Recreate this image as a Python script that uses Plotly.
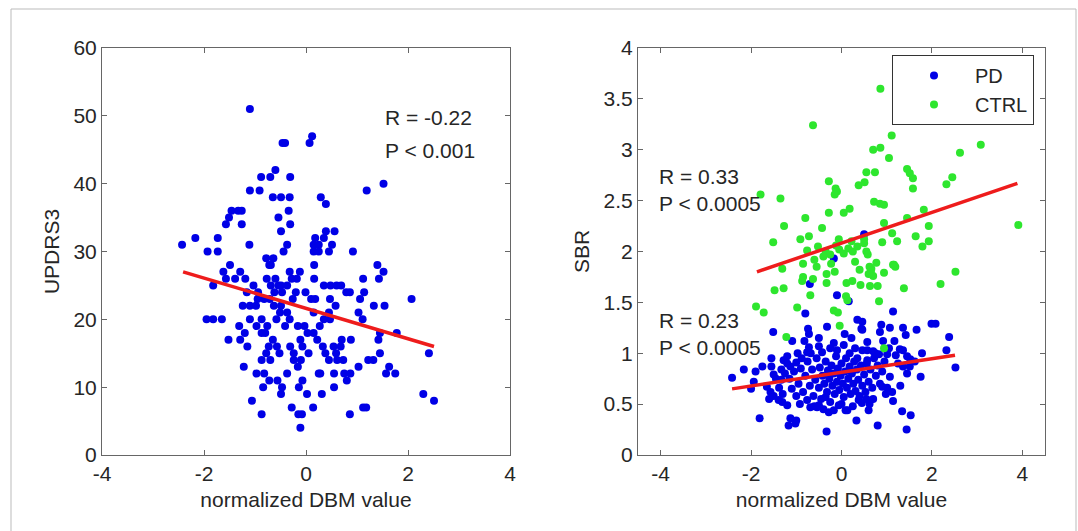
import plotly.graph_objects as go

# ---------------- data ----------------
# Left panel: UPDRS3 vs normalized DBM value (PD subjects)
updrs_points = [
    (-1.10, 51), (0.12, 47), (-0.46, 46), (-0.41, 46), (0.07, 46),
    (-0.60, 42), (-0.88, 41), (-0.70, 41), (-0.31, 41), (1.52, 40),
    (-1.10, 39), (-0.91, 39), (1.19, 39),
    (-0.65, 38), (-0.49, 38), (-0.32, 38), (0.29, 38), (0.39, 37),
    (-1.46, 36), (-1.33, 36), (-1.26, 36), (-0.34, 36),
    (-1.51, 35), (-0.54, 35), (-1.57, 34), (-1.26, 34), (-0.31, 34),
    (-0.49, 33), (0.39, 33), (0.56, 33),
    (-2.17, 32), (-1.73, 32), (0.18, 32), (0.35, 32),
    (-2.43, 31), (-1.11, 31), (-0.37, 31), (0.15, 31), (0.25, 31), (0.51, 31),
    (-1.93, 30), (-1.73, 30), (-0.44, 30), (0.15, 30), (0.25, 30), (0.45, 30), (0.92, 30),
    (-0.78, 29), (-0.64, 29),
    (-1.49, 28), (-0.72, 28), (-0.69, 28), (0.16, 28), (1.40, 28),
    (-1.62, 27), (-1.29, 27), (-0.32, 27), (-0.12, 27), (1.52, 27),
    (-1.57, 26), (-1.39, 26), (-1.19, 26), (-0.77, 26), (-0.60, 26), (-0.28, 26),
    (-0.18, 26), (0.16, 26), (1.12, 26), (1.43, 26),
    (-1.82, 25), (-1.03, 25), (-0.69, 25), (-0.54, 25), (-0.49, 25), (-0.37, 25),
    (0.35, 25), (0.48, 25), (0.60, 25), (0.69, 25),
    (-1.16, 24), (-0.94, 24), (-0.62, 24), (-0.47, 24), (-0.20, 24), (-0.01, 24),
    (0.79, 24), (0.86, 24), (1.14, 24),
    (-0.95, 23), (-0.82, 23), (-0.71, 23), (-0.26, 23), (0.10, 23), (0.18, 23),
    (0.47, 23), (1.06, 23), (2.07, 23),
    (-1.24, 22), (-1.10, 22), (-0.98, 22), (-0.63, 22), (-0.49, 22), (0.58, 22),
    (1.33, 22), (1.54, 22),
    (-0.51, 21), (-0.37, 21), (0.15, 21), (0.45, 21), (1.03, 21),
    (-1.95, 20), (-1.82, 20), (-1.65, 20), (-1.10, 20), (-0.87, 20), (-0.58, 20),
    (-0.32, 20), (0.35, 20), (0.47, 20), (1.11, 20),
    (-1.31, 19), (-0.97, 19), (-0.76, 19), (-0.41, 19), (-0.16, 19), (-0.03, 19), (0.27, 19),
    (-1.20, 18), (-0.87, 18), (-0.80, 18), (0.03, 18), (0.15, 18), (1.45, 18), (1.78, 18),
    (-1.52, 17), (-1.29, 17), (-0.65, 17), (-0.11, 17), (0.22, 17), (0.70, 17),
    (0.88, 17), (1.42, 17),
    (-1.15, 16), (-0.73, 16), (-0.57, 16), (-0.31, 16), (-0.07, 16), (0.33, 16),
    (0.54, 16), (0.68, 16),
    (-0.78, 15), (-0.52, 15), (-0.24, 15), (0.05, 15), (0.38, 15), (0.59, 15),
    (1.45, 15), (2.41, 15),
    (-0.87, 14), (-0.70, 14), (-0.24, 14), (-0.10, 14), (0.45, 14), (0.61, 14),
    (0.73, 14), (1.22, 14), (1.32, 14),
    (-1.22, 13), (-0.16, 13), (1.03, 13), (1.63, 13),
    (-0.97, 12), (-0.82, 12), (-0.37, 12), (0.25, 12), (0.28, 12), (0.55, 12),
    (0.75, 12), (0.87, 12), (1.57, 12), (1.75, 12),
    (-0.72, 11), (-0.56, 11), (-0.07, 11), (0.80, 11),
    (-0.84, 10), (-0.47, 10), (-0.14, 10), (0.55, 10),
    (-0.49, 9), (0.02, 9), (0.31, 9), (2.30, 9),
    (-1.06, 8), (2.51, 8),
    (-0.28, 7), (0.14, 7), (1.12, 7), (1.18, 7),
    (-0.87, 6), (-0.15, 6), (-0.08, 6), (0.86, 6),
    (-0.11, 4),
]
updrs_fit_x = [-2.41, 2.51]
updrs_fit_y = [27.0, 16.0]

# Right panel: SBR vs normalized DBM value, PD group
pd_points = [
    (-2.42, 0.76), (-2.16, 0.84), (-1.90, 0.82), (-1.94, 0.72), (-1.75, 0.87),
    (-1.55, 0.87), (-1.81, 0.36), (-1.51, 1.21), (-1.50, 0.79), (-1.09, 1.12),
    (-0.74, 1.24), (-0.72, 1.19), (-0.80, 1.39), (-0.70, 1.68), (-0.10, 1.57),
    (0.16, 1.51), (-0.32, 1.26), (0.07, 1.19), (0.44, 1.24), (0.35, 1.33),
    (0.46, 1.31), (1.14, 1.41), (2.08, 1.29), (2.38, 1.16), (2.32, 1.03),
    (1.78, 1.00), (2.52, 0.86), (1.75, 0.77), (1.07, 0.77), (1.14, 0.53),
    (1.34, 0.43), (1.53, 0.39), (1.44, 0.25), (0.80, 0.29), (0.33, 0.34),
    (-0.33, 0.23), (-1.17, 0.29), (-1.02, 0.31), (-1.13, 0.36), (-1.00, 0.34),
    (0.60, 0.44), (0.09, 0.44), (0.13, 0.44), (-0.54, 0.47), (0.70, 0.55),
    (-0.17, 1.93), (0.50, 2.17),
    (0.46, 1.23), (0.88, 1.28), (0.85, 1.21), (1.07, 1.25), (1.36, 1.25),
    (1.42, 1.18), (1.66, 1.23), (1.99, 1.29),
    (1.17, 1.12), (1.29, 1.04), (1.36, 1.03), (1.45, 0.97), (1.52, 0.94),
    (1.36, 0.87), (1.51, 0.87), (0.57, 1.11), (0.57, 1.03), (0.75, 1.00),
    (0.83, 0.99), (1.01, 0.99), (0.90, 0.67), (1.01, 0.66), (1.12, 0.62),
    (-1.33, 0.84), (-1.33, 0.74), (-1.57, 0.62), (-1.50, 0.58), (-1.39, 0.54),
    (-1.31, 0.52), (-1.20, 0.49), (-1.60, 0.55), (-1.28, 0.93), (-1.20, 0.90),
    (-1.13, 0.87), (-1.00, 0.91), (-0.97, 1.00), (-0.76, 1.01), (-0.72, 1.06),
    (-0.50, 1.07), (-0.43, 1.01), (-0.17, 1.10), (-0.10, 1.03), (0.18, 1.00),
    (0.35, 0.95), (0.46, 1.03), (0.57, 0.93),
    (-0.76, 0.54), (-0.69, 0.47), (-0.50, 0.49), (-0.35, 0.57), (-0.17, 0.44),
    (-0.06, 0.49), (0.38, 0.54), (0.45, 0.51),
    (-1.25, 0.80), (-1.15, 0.75), (-1.05, 0.82), (-0.95, 0.70), (-0.90, 0.85),
    (-0.85, 0.62), (-0.80, 0.78), (-0.75, 0.92), (-0.70, 0.68), (-0.65, 0.84),
    (-0.62, 0.58), (-0.58, 0.74), (-0.55, 0.95), (-0.50, 0.66), (-0.48, 0.86),
    (-0.45, 0.55), (-0.42, 0.78), (-0.38, 0.70), (-0.35, 0.92), (-0.32, 0.62),
    (-0.30, 0.83), (-0.27, 0.75), (-0.25, 0.52), (-0.22, 0.88), (-0.20, 0.68),
    (-0.17, 0.80), (-0.15, 0.60), (-0.12, 0.97), (-0.10, 0.72), (-0.08, 0.85),
    (-0.05, 0.64), (-0.02, 0.78), (0.00, 0.90), (0.03, 0.70), (0.05, 0.57),
    (0.08, 0.82), (0.10, 0.95), (0.12, 0.66), (0.15, 0.75), (0.18, 0.87),
    (0.20, 0.60), (0.23, 0.80), (0.26, 0.70), (0.28, 0.92), (0.31, 0.63),
    (0.34, 0.84), (0.37, 0.74), (0.40, 0.58), (0.43, 0.88), (0.46, 0.68),
    (0.50, 0.79), (0.53, 0.62), (0.56, 0.90), (0.60, 0.72), (0.64, 0.84),
    (0.68, 0.66), (0.72, 0.95), (0.76, 0.78), (0.80, 0.88), (0.85, 0.70),
    (0.90, 0.82), (0.95, 0.92),
    (-1.38, 0.66), (-1.30, 0.60), (-1.45, 0.75), (-1.10, 0.65), (-1.00, 0.58),
    (-0.92, 0.50), (-0.88, 0.95), (-0.60, 0.48), (-0.40, 0.45), (-0.28, 0.42),
    (0.00, 0.50), (0.25, 0.48), (0.55, 0.55), (0.62, 0.50), (-1.20, 0.97),
    (-0.68, 1.00), (-0.25, 1.05), (0.05, 1.08), (0.30, 1.05), (0.70, 1.02),
    (1.25, 0.90), (1.45, 0.80), (1.30, 0.68), (1.20, 0.98), (1.62, 0.92),
    (0.98, 0.60), (-1.65, 0.67), (-2.00, 0.65), (-1.55, 0.95), (-0.82, 1.12),
    (0.22, 1.15), (-0.50, 1.15), (1.05, 1.05), (0.92, 1.12),
]
pd_fit_x = [-2.42, 2.51]
pd_fit_y = [0.65, 0.98]

# Right panel: SBR vs normalized DBM value, control group
ctrl_points = [
    (0.86, 3.60), (-0.63, 3.24), (1.11, 3.14), (3.08, 3.05), (0.70, 3.00),
    (0.86, 3.02), (1.05, 2.92), (2.62, 2.97), (0.55, 2.78), (0.74, 2.78),
    (1.45, 2.81), (1.51, 2.77), (1.58, 2.72), (2.45, 2.73), (2.32, 2.66),
    (-0.28, 2.69), (0.38, 2.65), (0.51, 2.68), (-0.13, 2.62), (-0.10, 2.59),
    (-0.15, 2.56), (1.58, 2.62), (-1.79, 2.56), (-1.35, 2.52), (0.72, 2.49),
    (0.85, 2.47), (0.94, 2.46), (0.18, 2.42), (0.05, 2.38), (-0.28, 2.38),
    (-0.80, 2.33), (1.45, 2.33), (1.82, 2.41), (0.94, 2.28), (-1.27, 2.25),
    (-0.43, 2.23), (1.93, 2.25), (3.91, 2.26), (1.12, 2.18), (1.23, 2.10),
    (-0.91, 2.12), (-0.72, 2.15), (-0.06, 2.12), (-1.51, 2.09), (1.64, 2.15),
    (1.93, 2.10), (1.79, 2.05), (0.90, 2.09), (-0.52, 2.05), (-0.76, 2.01),
    (-0.35, 2.00), (-0.25, 1.97), (-0.05, 2.02), (0.05, 1.98), (0.15, 2.03),
    (0.25, 2.00), (0.35, 2.05), (0.50, 2.08), (0.55, 2.00), (0.58, 1.97),
    (0.50, 2.12), (0.22, 2.10), (-0.12, 2.06), (-0.40, 1.95),
    (-1.31, 1.83), (2.52, 1.80), (1.16, 1.87), (0.94, 1.79), (0.77, 1.89),
    (1.14, 1.87), (1.19, 1.85), (0.62, 1.85), (0.65, 1.80), (0.70, 1.76),
    (0.60, 1.78), (0.66, 1.83), (-0.23, 1.88), (-0.87, 1.71), (-0.85, 1.75),
    (-0.63, 1.73), (-0.33, 1.78), (-0.33, 1.69), (-0.69, 1.57), (0.11, 1.69),
    (0.24, 1.71), (0.42, 1.67), (0.63, 1.66), (0.80, 1.66), (1.38, 1.64),
    (2.19, 1.68), (-1.28, 1.64), (-1.48, 1.62), (-1.89, 1.46), (-1.72, 1.40),
    (-0.98, 1.45), (0.10, 1.56), (0.13, 1.52), (-0.17, 1.42), (-0.08, 1.40),
    (0.83, 1.51), (-0.04, 1.27), (-1.22, 1.16), (0.94, 1.05),
    (-0.55, 1.85), (-0.85, 1.88), (-0.15, 1.80), (0.40, 1.82), (-0.60, 1.92),
    (0.30, 1.90),
]
ctrl_fit_x = [-1.87, 3.89]
ctrl_fit_y = [1.80, 2.67]

x_ticks = [-4, -2, 0, 2, 4]
x_tick_text = ["-4", "-2", "0", "2", "4"]
updrs_ticks = [0, 10, 20, 30, 40, 50, 60]
sbr_ticks = [0, 0.5, 1, 1.5, 2, 2.5, 3, 3.5, 4]
sbr_tick_text = ["0", "0.5", "1", "1.5", "2", "2.5", "3", "3.5", "4"]

# ---------------- styling ----------------
W, H = 1078, 531
FONT = "Arial, Liberation Sans, sans-serif"
FS = 21
TXT = "#262626"
BLUE = "#0000e6"
GREEN = "#2ee62e"
RED = "#ee1c1c"
AXC = "#666666"
MS = 8

fig = go.Figure()

fig.add_trace(go.Scatter(
    x=[p[0] for p in updrs_points], y=[p[1] for p in updrs_points],
    mode="markers", marker=dict(color=BLUE, size=MS), showlegend=False,
    xaxis="x", yaxis="y"))
fig.add_trace(go.Scatter(
    x=updrs_fit_x, y=updrs_fit_y, mode="lines",
    line=dict(color=RED, width=3.5), showlegend=False, xaxis="x", yaxis="y"))

fig.add_trace(go.Scatter(
    x=[p[0] for p in pd_points], y=[p[1] for p in pd_points],
    mode="markers", marker=dict(color=BLUE, size=MS), name="PD",
    xaxis="x2", yaxis="y2"))
fig.add_trace(go.Scatter(
    x=[p[0] for p in ctrl_points], y=[p[1] for p in ctrl_points],
    mode="markers", marker=dict(color=GREEN, size=MS), name="CTRL",
    xaxis="x2", yaxis="y2"))
fig.add_trace(go.Scatter(
    x=pd_fit_x, y=pd_fit_y, mode="lines",
    line=dict(color=RED, width=3.5), showlegend=False, xaxis="x2", yaxis="y2"))
fig.add_trace(go.Scatter(
    x=ctrl_fit_x, y=ctrl_fit_y, mode="lines",
    line=dict(color=RED, width=3.5), showlegend=False, xaxis="x2", yaxis="y2"))

y_dom = [1 - 455 / H, 1 - 48 / H]
common = dict(showline=True, linecolor=AXC, linewidth=1, mirror="ticks",
              ticks="inside", ticklen=5, tickcolor=AXC, showgrid=False,
              zeroline=False, automargin=False,
              tickfont=dict(size=FS, color=TXT, family=FONT))

fig.update_layout(
    width=W, height=H,
    margin=dict(l=0, r=0, t=0, b=0),
    paper_bgcolor="white", plot_bgcolor="white",
    font=dict(family=FONT, color=TXT, size=FS),
    xaxis=dict(domain=[102 / W, 510 / W], range=[-4, 4], tickvals=x_ticks,
               ticktext=x_tick_text, anchor="y",
               title=dict(text="normalized DBM value", font=dict(size=FS), standoff=8),
               **common),
    yaxis=dict(domain=y_dom, range=[0, 60], tickvals=updrs_ticks, anchor="x",
               title=dict(text="UPDRS3", font=dict(size=FS), standoff=8),
               **common),
    xaxis2=dict(domain=[638 / W, 1045 / W], range=[-4.5, 4.5], tickvals=x_ticks,
                ticktext=x_tick_text, anchor="y2",
                title=dict(text="normalized DBM value", font=dict(size=FS), standoff=8),
                **common),
    yaxis2=dict(domain=y_dom, range=[0, 4], tickvals=sbr_ticks, ticktext=sbr_tick_text,
                anchor="x2",
                title=dict(text="SBR", font=dict(size=FS), standoff=8),
                **common),
    legend=dict(x=1034 / W, y=1 - 55 / H, xanchor="right", yanchor="top",
                bgcolor="white", bordercolor="#333333", borderwidth=1,
                font=dict(size=20, color=TXT, family=FONT), itemwidth=72,
                tracegroupgap=0),
    shapes=[dict(type="rect", xref="paper", yref="paper",
                 x0=11 / W, x1=1076 / W, y0=-0.02, y1=1 - 9 / H,
                 line=dict(color="#bbbbbb", width=1), fillcolor="rgba(0,0,0,0)",
                 layer="below")],
)

ann = dict(showarrow=False, xanchor="left", yanchor="middle", align="left",
           font=dict(size=FS, color=TXT, family=FONT))
fig.add_annotation(text="R = -0.22", x=1.51, y=49.76, xref="x", yref="y", **ann)
fig.add_annotation(text="P < 0.001", x=1.51, y=44.9, xref="x", yref="y", **ann)
fig.add_annotation(text="R = 0.33<br>P < 0.0005", x=-4.09, y=2.60,
                   xref="x2", yref="y2", **ann)
fig.add_annotation(text="R = 0.23<br>P < 0.0005", x=-4.09, y=1.19,
                   xref="x2", yref="y2", **ann)

fig.write_html("out.html",
               config={"displayModeBar": False},
               post_script="document.body.style.margin='0';"
                           "document.body.style.overflow='hidden';")
